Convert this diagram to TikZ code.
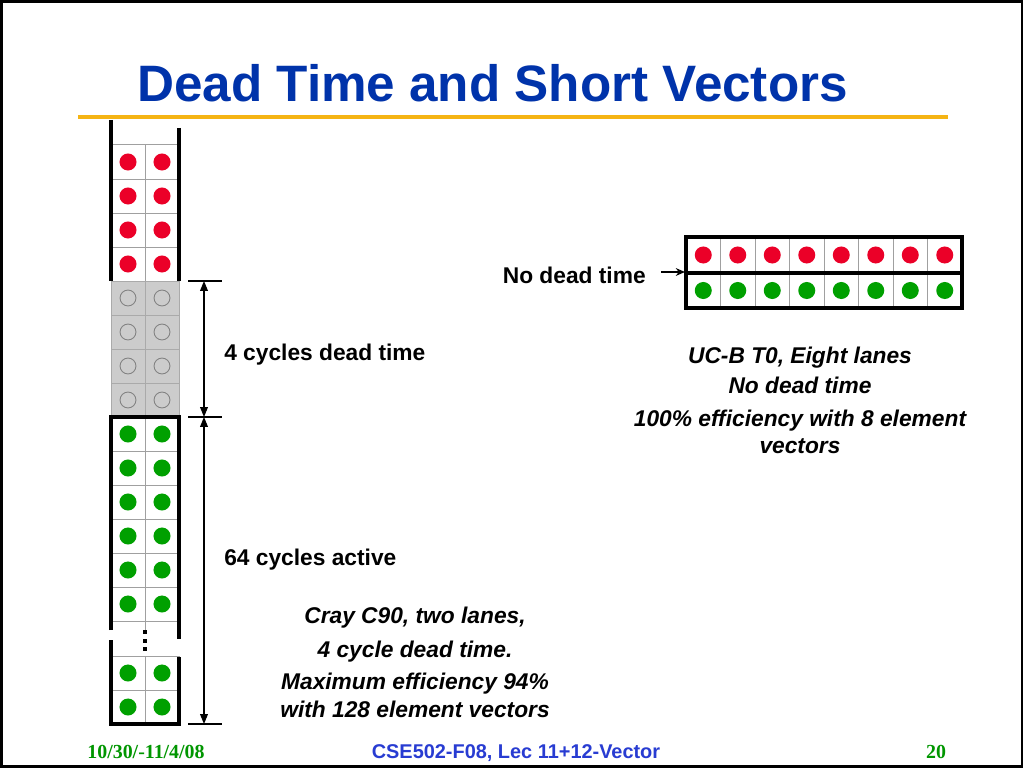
\documentclass[tikz,border=0pt]{standalone}
\usepackage{fontspec}
\setmainfont{Liberation Sans}
\newfontfamily\serifbold{Liberation Serif}
\usetikzlibrary{arrows.meta}
\definecolor{titleblue}{RGB}{0,51,170}
\definecolor{footblue}{RGB}{40,60,210}
\definecolor{footgreen}{RGB}{0,150,0}
\definecolor{goldline}{RGB}{245,180,20}
\definecolor{dotred}{RGB}{235,0,40}
\definecolor{dotgreen}{RGB}{0,160,0}
\definecolor{cellgray}{RGB}{160,160,160}
\definecolor{deadfill}{RGB}{204,204,204}
\definecolor{deadline}{RGB}{170,170,170}
\definecolor{ringgray}{RGB}{128,128,128}
\tikzset{
  cellbox/.style={draw=cellgray, line width=0.7pt},
  deadbox/.style={draw=deadline, fill=deadfill, line width=0.7pt},
  heavy/.style={draw=black, line width=2.8pt, line join=miter},
  tickline/.style={draw=black, line width=0.8pt},
  dimarrow/.style={draw=black, line width=0.8pt, {Triangle[length=7pt,width=5.5pt]}-{Triangle[length=7pt,width=5.5pt]}},
  plainlabel/.style={font=\fontsize{16}{19}\selectfont\bfseries, inner sep=0},
  itlabel/.style={font=\fontsize{16}{19}\selectfont\bfseries\itshape, inner sep=0},
}
\begin{document}
\begin{tikzpicture}[x=0.703125pt,y=-0.703125pt]
\useasboundingbox (0,0) rectangle (1024,768);
\fill[white] (0,0) rectangle (1024,768);
\draw[line width=1.8pt] (1.5,1.5) rectangle (1022,766.5);

% title
\node[anchor=base west, font=\fontsize{36}{40}\selectfont\bfseries, text=titleblue, inner sep=0] (title) at (137,102) {Dead Time and Short Vectors};
\draw[goldline, line width=2.8pt] (78,117) -- (948,117);

% ---------- left column ----------
% red section
\foreach \r in {0,...,3}{
  \pgfmathsetmacro\yy{145+34*\r}
  \draw[cellbox] (111,\yy) rectangle (145,\yy+34);
  \draw[cellbox] (145,\yy) rectangle (179,\yy+34);
  \fill[dotred] (128,\yy+17) circle[radius=5.98pt];
  \fill[dotred] (162,\yy+17) circle[radius=5.98pt];
}
% dead section
\foreach \r in {0,...,3}{
  \pgfmathsetmacro\yy{281+34*\r}
  \draw[deadbox] (111,\yy) rectangle (145,\yy+34);
  \draw[deadbox] (145,\yy) rectangle (179,\yy+34);
  \draw[ringgray, line width=0.6pt] (128,\yy+17) circle[radius=5.6pt];
  \draw[ringgray, line width=0.6pt] (162,\yy+17) circle[radius=5.6pt];
}
% green section
\foreach \yy in {417,451,485,519,553,587,656,690}{
  \draw[cellbox] (111,\yy) rectangle (145,\yy+34);
  \draw[cellbox] (145,\yy) rectangle (179,\yy+34);
  \fill[dotgreen] (128,\yy+17) circle[radius=5.98pt];
  \fill[dotgreen] (162,\yy+17) circle[radius=5.98pt];
}
\draw[cellbox] (145,621) -- (145,630);
% vertical ellipsis
\foreach \yy in {632,641,649}{
  \fill[black] (143.3,\yy-1.8) rectangle (146.9,\yy+1.8);
}
% heavy outlines
\draw[heavy] (111,120) -- (111,281);
\draw[heavy] (179,128) -- (179,281);
\draw[heavy] (111,630) -- (111,417) -- (179,417) -- (179,639);
\draw[heavy] (111,640) -- (111,724) -- (179,724) -- (179,657);

% dimension lines
\coordinate (d1) at (204,281);
\coordinate (d2) at (204,417);
\coordinate (d3) at (204,724);
\draw[tickline] (188,281) -- (222,281);
\draw[tickline] (188,417) -- (222,417);
\draw[tickline] (188,724) -- (222,724);
\draw[dimarrow] (d1) -- (d2);
\draw[dimarrow] (d2) -- (d3);

\node[plainlabel, anchor=base west] (dead) at (224,360) {4 cycles dead time};
\node[plainlabel, anchor=base west] (active) at (224,565) {64 cycles active};

\node[itlabel, anchor=base] (c1) at (415,623) {Cray C90, two lanes,};
\node[itlabel, anchor=base] (c2) at (415,657) {4 cycle dead time.};
\node[itlabel, anchor=base] (c3) at (415,689) {Maximum efficiency 94\%};
\node[itlabel, anchor=base] (c4) at (415,717) {with 128 element vectors};

% ---------- right grid ----------
\foreach \i in {0,...,7}{
  \pgfmathsetmacro\xx{686+34.5*\i}
  \draw[cellbox] (\xx,237) rectangle (\xx+34.5,273);
  \draw[cellbox] (\xx,273) rectangle (\xx+34.5,308);
  \fill[dotred] (\xx+17.25,255) circle[radius=5.98pt];
  \fill[dotgreen] (\xx+17.25,290.5) circle[radius=5.98pt];
}
\draw[heavy] (686,237) rectangle (962,273);
\draw[heavy] (686,273) rectangle (962,308);

\node[plainlabel, anchor=base east] (nodead) at (646,283) {No dead time};
\coordinate (arrstart) at (661,272);
\coordinate (gridmid) at (685,272);
\draw[line width=0.8pt, -{Stealth[length=6.5pt,width=5.5pt]}] (arrstart) -- (gridmid);

\node[itlabel, anchor=base] (u1) at (800,363) {UC-B T0, Eight lanes};
\node[itlabel, anchor=base] (u2) at (800,393) {No dead time};
\node[itlabel, anchor=base] (u3) at (800,426) {100\% efficiency with 8 element};
\node[itlabel, anchor=base] (u4) at (800,453) {vectors};

% ---------- footer ----------
\node[anchor=base, inner sep=0, text=footgreen, font=\serifbold\fontsize{14}{16}\selectfont\bfseries] (date) at (146,758) {10/30/-11/4/08};
\node[anchor=base, inner sep=0, text=footblue, font=\fontsize{14}{16}\selectfont\bfseries] (course) at (516,758) {CSE502-F08, Lec 11+12-Vector};
\node[anchor=base, inner sep=0, text=footgreen, font=\serifbold\fontsize{14}{16}\selectfont\bfseries] (page) at (936,758) {20};
\end{tikzpicture}
\end{document}
